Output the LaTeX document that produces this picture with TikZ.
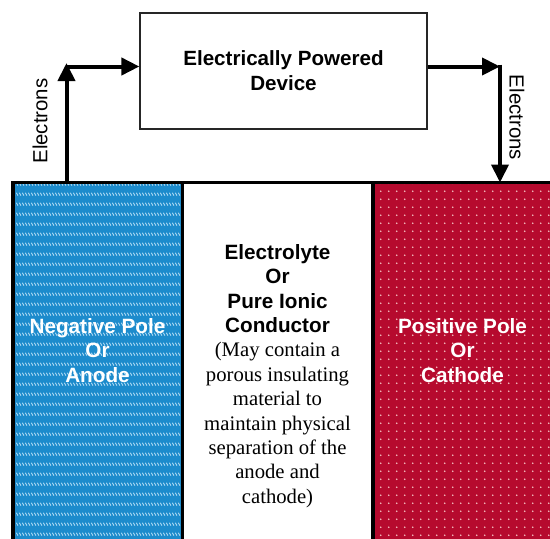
\documentclass[tikz,border=0pt]{standalone}
\usepackage{fontspec}
\setmainfont{Liberation Sans}
\newfontfamily\serifface{Liberation Serif}
\usetikzlibrary{arrows.meta,patterns}

\definecolor{anodeblue}{RGB}{28,139,204}
\definecolor{anodedash}{RGB}{175,218,243}
\definecolor{cathodered}{RGB}{182,10,46}
\definecolor{cathodedot}{RGB}{245,195,195}

\newcommand{\sernote}[1]{{\serifface\mdseries #1}}

\pgfdeclarepatternformonly{anodedashes}{\pgfpointorigin}{\pgfpoint{3.3pt}{9.7pt}}{\pgfpoint{3.3pt}{9.7pt}}{
  \pgfsetlinewidth{1pt}
  \pgfpathmoveto{\pgfpoint{0.4pt}{6.4pt}}
  \pgfpathlineto{\pgfpoint{2.4pt}{3.4pt}}
  \pgfusepath{stroke}}
\pgfdeclarepatternformonly{cathodedots}{\pgfpointorigin}{\pgfpoint{7.7pt}{7.7pt}}{\pgfpoint{7.7pt}{7.7pt}}{
  \pgfpathcircle{\pgfpoint{3.85pt}{3.85pt}}{0.95pt}
  \pgfusepath{fill}}

\begin{document}
\begin{tikzpicture}[x=1pt, y=-1pt,
  box/.style = {draw=black!85, line width=1.2pt, minimum width=287pt,
                minimum height=116pt, align=center,
                font=\bfseries\fontsize{20.6}{25}\selectfont},
  electrode/.style = {minimum height=357pt, inner sep=0pt, anchor=north west},
  poletext/.style = {align=center, inner sep=0pt,
                     font=\bfseries\fontsize{20.7}{24.4}\selectfont},
  flowtext/.style = {inner sep=0pt, font=\fontsize{20.4}{24}\selectfont},
  frame/.style = {line width=3.5pt},
  flow/.style = {line width=4pt, -{Triangle[length=18pt,width=17pt]}}
]
  \useasboundingbox (0,0) rectangle (550,539);

  % Device
  \node[box] (device) at (283.5,71) {Electrically Powered\\Device};

  % Cell parts
  \node[electrode, minimum width=169pt, preaction={fill=anodeblue},
        pattern=anodedashes, pattern color=anodedash] (anode) at (13,182.5) {};
  \node[electrode, minimum width=191pt, fill=white] (electrolyte) at (182,182.5) {};
  \node[electrode, minimum width=177pt, preaction={fill=cathodered},
        pattern=cathodedots, pattern color=cathodedot] (cathode) at (373,182.5) {};

  % Frame
  \draw[frame] (anode.south west) -- (anode.north west) -- (cathode.north east);
  \draw[frame] (anode.north east) -- (anode.south east);
  \draw[frame] (cathode.north west) -- (cathode.south west);

  % Texts
  \node[poletext, text=white] (anodetext) at (97.5,350.5) {Negative Pole\\Or\\Anode};
  \node[poletext, text=white] (cathodetext) at (462.5,350.5) {Positive Pole\\Or\\Cathode};
  \node[poletext] (electrolytetext) at (277.5,376)
    {Electrolyte\\Or\\Pure Ionic\\Conductor\\\sernote{(May contain a}\\\sernote{porous insulating}\\
     \sernote{material to}\\\sernote{maintain physical}\\\sernote{separation of the}\\
     \sernote{anode and}\\\sernote{cathode)}};

  % Electron flow
  \coordinate (lturn) at (66.5,66.5);
  \coordinate (rturn) at (500,66.5);
  \draw[flow] (anode.north -| lturn) -- ([yshift=3.5pt]lturn);
  \draw[flow] (lturn) -- (lturn -| device.west);
  \draw[flow] (device.east |- rturn) -- (rturn);
  \draw[flow] ([yshift=2pt]rturn) -- (rturn |- cathode.north);

  \node[flowtext, rotate=90] (leftflow) at (40,121) {Electrons};
  \node[flowtext, rotate=-90] (rightflow) at (517,117.5) {Electrons};

\end{tikzpicture}
\end{document}
